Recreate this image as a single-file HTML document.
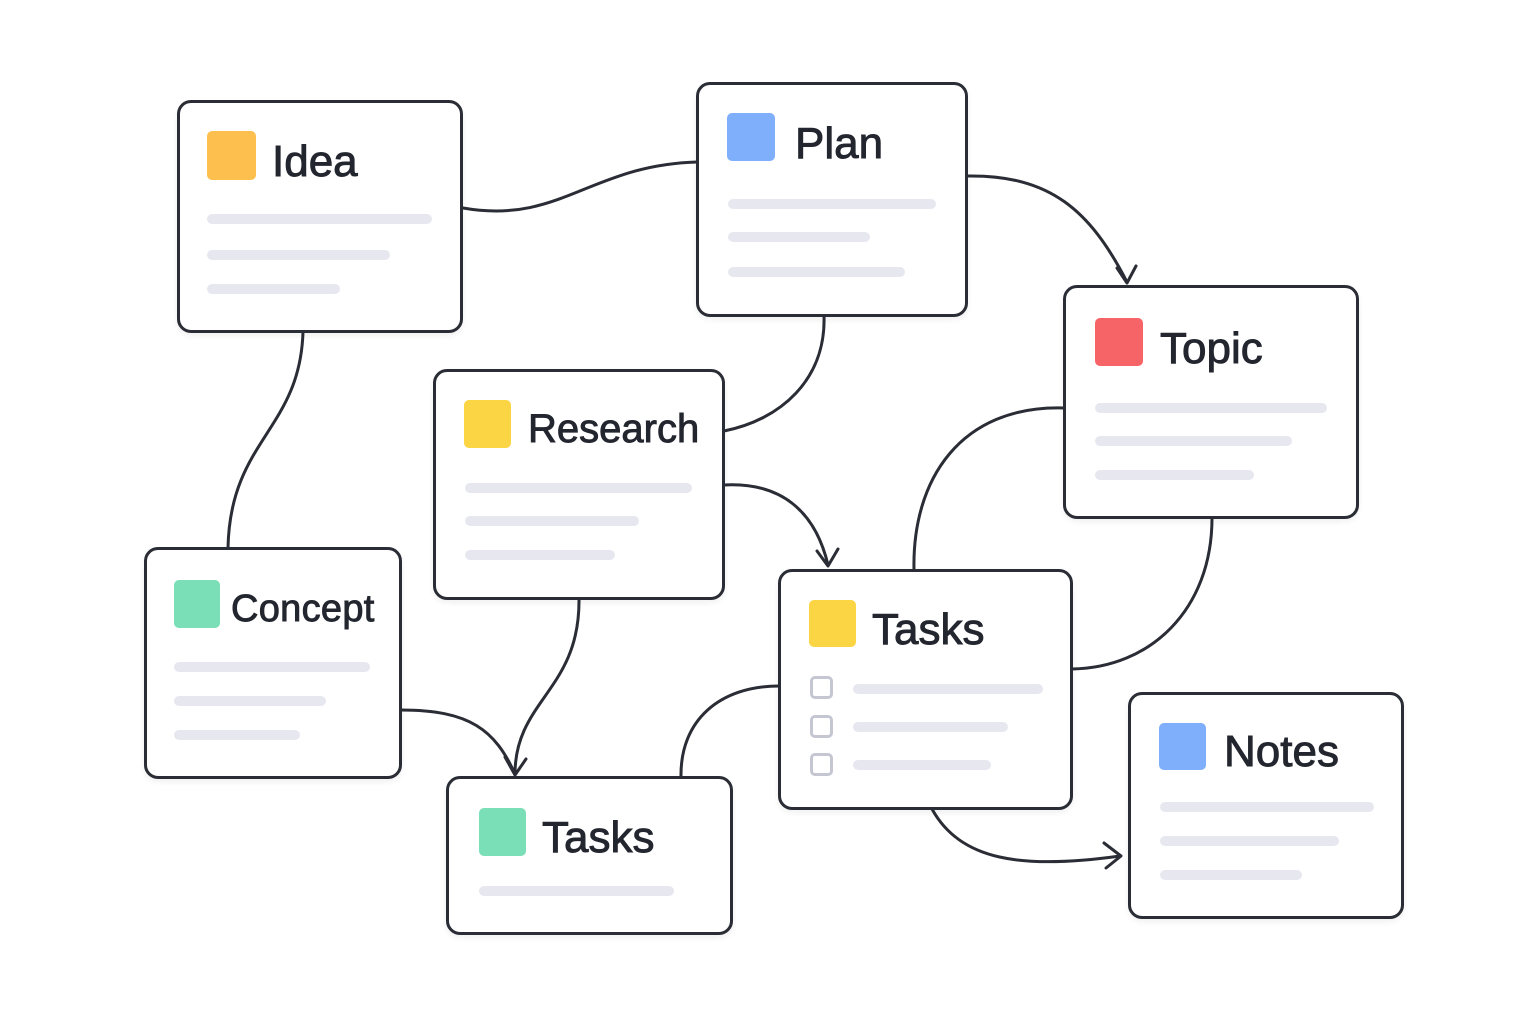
<!DOCTYPE html>
<html><head><meta charset="utf-8"><style>
html,body{margin:0;padding:0;background:#fff;}
body{width:1536px;height:1024px;position:relative;overflow:hidden;font-family:"Liberation Sans",sans-serif;}
.n{position:absolute;border:3px solid #2a2d35;border-radius:14px;background:#fff;box-sizing:border-box;box-shadow:0 3px 6px rgba(0,0,0,0.06);}
.ic{position:absolute;border-radius:5px;}
.t{position:absolute;color:#23262e;line-height:1;white-space:nowrap;-webkit-text-stroke:0.9px #23262e;}
.l{position:absolute;height:10px;border-radius:5px;background:#e7e7ef;}
.cb{position:absolute;width:23px;height:23px;border:3px solid #c4c7d2;border-radius:5px;box-sizing:border-box;}
svg{position:absolute;left:0;top:0;}
</style></head><body>
<svg width="1536" height="1024" fill="none" stroke="#2a2d35" stroke-width="3" stroke-linecap="round" stroke-linejoin="round">
<path d="M463,208 C560,225 590,165 697,162"/>
<path d="M968,176 C1050,175 1090,210 1127,282"/>
<path d="M1117,268 L1127,283 L1136,266"/>
<path d="M824,316 C826,380 780,420 724,431"/>
<path d="M303,332 C300,430 230,440 228,548"/>
<path d="M724,485 C780,482 815,510 828,565"/>
<path d="M817,551 L828,566 L838,549"/>
<path d="M579,599 C580,690 515,700 515,774"/>
<path d="M401,710 C470,710 495,730 515,774"/>
<path d="M505,757 L515,775 L526,759"/>
<path d="M1064,408 C960,405 912,480 914,570"/>
<path d="M1212,518 C1212,610 1150,668 1072,669"/>
<path d="M779,686 C720,686 680,720 681,777"/>
<path d="M932,809 C960,860 1020,870 1120,856"/>
<path d="M1104,843 L1121,856 L1106,868"/>
</svg>

<div class="n" style="left:177px;top:100px;width:286px;height:233px"></div>
<div class="ic" style="left:207px;top:131px;width:49px;height:49px;background:#fdc04e"></div>
<div class="t" style="left:272px;top:140px;font-size:44px">Idea</div>
<div class="l" style="left:207px;top:214px;width:225px"></div>
<div class="l" style="left:207px;top:250px;width:183px"></div>
<div class="l" style="left:207px;top:284px;width:133px"></div>

<div class="n" style="left:696px;top:82px;width:272px;height:235px"></div>
<div class="ic" style="left:727px;top:113px;width:48px;height:48px;background:#7faefb"></div>
<div class="t" style="left:795px;top:122px;font-size:44px">Plan</div>
<div class="l" style="left:728px;top:199px;width:208px"></div>
<div class="l" style="left:728px;top:232px;width:142px"></div>
<div class="l" style="left:728px;top:267px;width:177px"></div>

<div class="n" style="left:1063px;top:285px;width:296px;height:234px"></div>
<div class="ic" style="left:1095px;top:318px;width:48px;height:48px;background:#f76468"></div>
<div class="t" style="left:1160px;top:327px;font-size:44px">Topic</div>
<div class="l" style="left:1095px;top:403px;width:232px"></div>
<div class="l" style="left:1095px;top:436px;width:197px"></div>
<div class="l" style="left:1095px;top:470px;width:159px"></div>

<div class="n" style="left:433px;top:369px;width:292px;height:231px"></div>
<div class="ic" style="left:464px;top:400px;width:47px;height:48px;background:#fcd545"></div>
<div class="t" style="left:528px;top:409px;font-size:40px">Research</div>
<div class="l" style="left:465px;top:483px;width:227px"></div>
<div class="l" style="left:465px;top:516px;width:174px"></div>
<div class="l" style="left:465px;top:550px;width:150px"></div>

<div class="n" style="left:144px;top:547px;width:258px;height:232px"></div>
<div class="ic" style="left:174px;top:580px;width:46px;height:48px;background:#7adfb6"></div>
<div class="t" style="left:231px;top:590px;font-size:38px;letter-spacing:0.3px">Concept</div>
<div class="l" style="left:174px;top:662px;width:196px"></div>
<div class="l" style="left:174px;top:696px;width:152px"></div>
<div class="l" style="left:174px;top:730px;width:126px"></div>

<div class="n" style="left:778px;top:569px;width:295px;height:241px"></div>
<div class="ic" style="left:809px;top:600px;width:47px;height:47px;background:#fcd545"></div>
<div class="t" style="left:872px;top:608px;font-size:44px">Tasks</div>
<div class="cb" style="left:810px;top:676px"></div>
<div class="cb" style="left:810px;top:715px"></div>
<div class="cb" style="left:810px;top:753px"></div>
<div class="l" style="left:853px;top:684px;width:190px"></div>
<div class="l" style="left:853px;top:722px;width:155px"></div>
<div class="l" style="left:853px;top:760px;width:138px"></div>

<div class="n" style="left:446px;top:776px;width:287px;height:159px"></div>
<div class="ic" style="left:479px;top:808px;width:47px;height:48px;background:#7adfb6"></div>
<div class="t" style="left:542px;top:816px;font-size:44px">Tasks</div>
<div class="l" style="left:479px;top:886px;width:195px"></div>

<div class="n" style="left:1128px;top:692px;width:276px;height:227px"></div>
<div class="ic" style="left:1159px;top:723px;width:47px;height:47px;background:#7faefb"></div>
<div class="t" style="left:1224px;top:730px;font-size:44px">Notes</div>
<div class="l" style="left:1160px;top:802px;width:214px"></div>
<div class="l" style="left:1160px;top:836px;width:179px"></div>
<div class="l" style="left:1160px;top:870px;width:142px"></div>
</body></html>
